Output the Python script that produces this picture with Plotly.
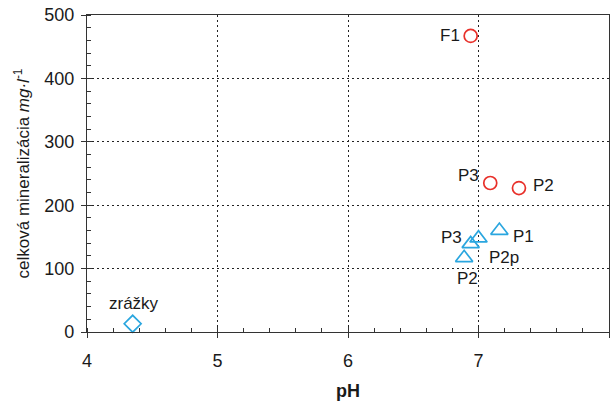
import plotly.graph_objects as go

# Surface-water samples (circles), groundwater samples (triangles), precipitation (diamond)
circ_ph = [6.94, 7.09, 7.31]
circ_min = [467, 235, 227]
circ_lab = ["F1", "P3", "P2"]

tri_ph = [7.16, 7.00, 6.94, 6.89]
tri_min = [160, 148, 139, 117]
tri_lab = ["P1", "P2p", "P3", "P2"]

rain_ph = [4.35]
rain_min = [13]
rain_lab = ["zrážky"]

x_ticks = [4, 5, 6, 7, 8]
y_ticks = [0, 100, 200, 300, 400, 500]

# label placement per point: (xanchor, xshift, yshift)
circ_place = [("right", -9, 0), ("right", -9, 8), ("left", 12, 3)]
tri_place = [("left", 12, -6), ("left", 8, -19), ("right", -7, 6), ("center", 3, -21)]
rain_place = [("center", 1, 20)]

RED = "#e8302a"
BLUE = "#2aa6df"
FONT = "Liberation Sans, Arial, sans-serif"
TXT = "#1a1a1a"

fig = go.Figure()
fig.add_trace(go.Scatter(
    x=circ_ph, y=circ_min, mode="markers",
    marker=dict(symbol="circle-open", size=13, color=RED, line=dict(width=1.7)),
    showlegend=False, cliponaxis=False))
fig.add_trace(go.Scatter(
    x=tri_ph, y=tri_min, mode="markers",
    marker=dict(symbol="triangle-up-open", size=15, color=BLUE, line=dict(width=1.7)),
    showlegend=False, cliponaxis=False))
fig.add_trace(go.Scatter(
    x=rain_ph, y=rain_min, mode="markers",
    marker=dict(symbol="diamond-open", size=13, color=BLUE, line=dict(width=1.7)),
    showlegend=False, cliponaxis=False))
# invisible trace to activate the overlay axes used for inner major ticks
fig.add_trace(go.Scatter(x=[4], y=[0], xaxis="x2", yaxis="y2", mode="markers",
                         marker=dict(opacity=0), showlegend=False, hoverinfo="skip"))

for xs, ys, labs, places in [(circ_ph, circ_min, circ_lab, circ_place),
                             (tri_ph, tri_min, tri_lab, tri_place),
                             (rain_ph, rain_min, rain_lab, rain_place)]:
    for xv, yv, lab, (anc, dx, dy) in zip(xs, ys, labs, places):
        fig.add_annotation(x=xv, y=yv, text=lab, showarrow=False, xanchor=anc,
                           yanchor="middle", xshift=dx, yshift=dy,
                           font=dict(size=17, color=TXT, family=FONT))

common = dict(showline=True, linecolor="#333", linewidth=1.3, mirror=True,
              ticks="outside", ticklen=5, tickcolor="#333", tickwidth=1,
              showgrid=True, gridcolor="#222", griddash="2px,3px", gridwidth=1,
              zeroline=False, tickfont=dict(size=18, color=TXT, family=FONT))

fig.update_layout(
    width=614, height=405,
    margin=dict(l=87, r=5, t=15, b=73),
    plot_bgcolor="white", paper_bgcolor="white",
    font=dict(family=FONT, color=TXT),
    xaxis=dict(range=[4, 8], tickvals=x_ticks, **common, ticklabelstandoff=7,
               minor=dict(dtick=0.2, ticks="inside", ticklen=4, tickcolor="#333", showgrid=False),
               title=dict(text="<b>pH</b>", font=dict(size=18), standoff=14)),
    yaxis=dict(range=[0, 500], tickvals=y_ticks, **common, ticklabelstandoff=3,
               minor=dict(dtick=20, ticks="inside", ticklen=4, tickcolor="#333", showgrid=False),
               title=dict(text="celková mineralizácia <i>mg·l</i><sup>-1</sup>",
                          font=dict(size=17), standoff=10)),
    xaxis2=dict(range=[4, 8], tickvals=x_ticks, overlaying="x", showticklabels=False,
                ticks="inside", ticklen=5, tickcolor="#333", showgrid=False,
                zeroline=False, showline=False),
    yaxis2=dict(range=[0, 500], tickvals=y_ticks, overlaying="y", showticklabels=False,
                ticks="inside", ticklen=5, tickcolor="#333", showgrid=False,
                zeroline=False, showline=False),
)

fig.write_html("out.html")
